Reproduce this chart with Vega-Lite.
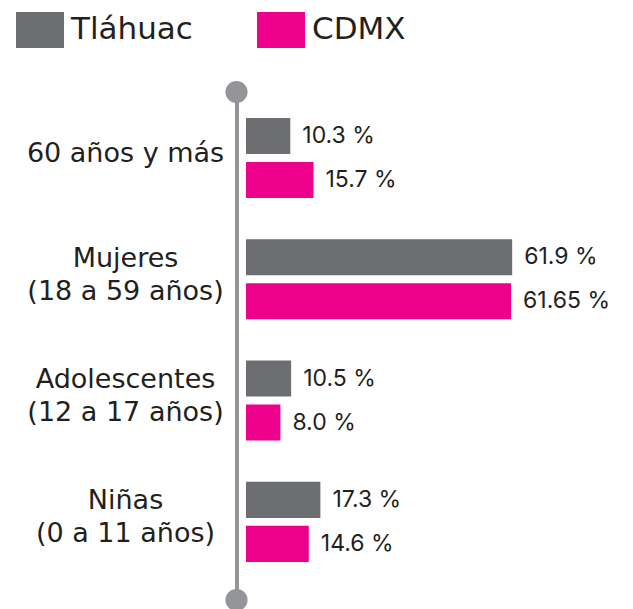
{
  "$schema": "https://vega.github.io/schema/vega-lite/v6.json",
  "width": 387,
  "height": 508,
  "autosize": {"type": "none"},
  "padding": {"left": 246, "top": 92, "right": 0, "bottom": 9},
  "background": "white",
  "config": {"view": {"stroke": null}, "font": "Inter"},
  "datasets": {
    "barras": [
      {"grupo": "60 años y más", "serie": "Tláhuac", "valor": 10.3, "texto": "10.3 %"},
      {"grupo": "60 años y más", "serie": "CDMX", "valor": 15.7, "texto": "15.7 %"},
      {"grupo": "Mujeres|(18 a 59 años)", "serie": "Tláhuac", "valor": 61.9, "texto": "61.9 %"},
      {"grupo": "Mujeres|(18 a 59 años)", "serie": "CDMX", "valor": 61.65, "texto": "61.65 %"},
      {"grupo": "Adolescentes|(12 a 17 años)", "serie": "Tláhuac", "valor": 10.5, "texto": "10.5 %"},
      {"grupo": "Adolescentes|(12 a 17 años)", "serie": "CDMX", "valor": 8.0, "texto": "8.0 %"},
      {"grupo": "Niñas|(0 a 11 años)", "serie": "Tláhuac", "valor": 17.3, "texto": "17.3 %"},
      {"grupo": "Niñas|(0 a 11 años)", "serie": "CDMX", "valor": 14.6, "texto": "14.6 %"}
    ],
    "extremos": [{"extremo": 0}, {"extremo": 1}]
  },
  "layer": [
    {
      "data": {"name": "barras"},
      "encoding": {
        "y": {
          "field": "grupo",
          "type": "nominal",
          "sort": ["60 años y más", "Mujeres|(18 a 59 años)", "Adolescentes|(12 a 17 años)", "Niñas|(0 a 11 años)"],
          "scale": {"paddingInner": 0.34, "paddingOuter": 0.264, "align": 0.405},
          "axis": {
            "title": null,
            "domain": true,
            "domainColor": "#939598",
            "domainWidth": 4,
            "offset": 9.5,
            "ticks": false,
            "tickSize": 0,
            "grid": false,
            "labelPadding": 111.5,
            "labelAlign": "center",
            "labelBaseline": "middle",
            "labelFont": "DejaVu Sans",
            "labelFontSize": 27,
            "labelColor": "#231F20",
            "labelLineHeight": 33,
            "labelLimit": 300,
            "labelOffset": {"condition": {"test": "indexof(datum.value, '|') >= 0", "value": -20.5}, "value": -4},
            "labelExpr": "split(datum.label, '|')"
          }
        },
        "yOffset": {
          "field": "serie",
          "sort": ["Tláhuac", "CDMX"],
          "scale": {"paddingInner": 0.18, "paddingOuter": 0}
        }
      },
      "layer": [
        {
          "mark": {"type": "bar"},
          "encoding": {
            "x": {"field": "valor", "type": "quantitative", "scale": {"domain": [0, 84]}, "axis": null},
            "color": {
              "field": "serie",
              "type": "nominal",
              "scale": {"domain": ["Tláhuac", "CDMX"], "range": ["#6D6E71", "#EC008C"]},
              "legend": {
                "orient": "none",
                "legendX": -230,
                "legendY": -86,
                "direction": "horizontal",
                "title": null,
                "symbolType": "M-1,-0.75H1V0.75H-1Z",
                "symbolSize": 2304,
                "symbolStrokeWidth": 0,
                "symbolOpacity": 1,
                "labelFont": "DejaVu Sans",
                "labelFontSize": 31,
                "labelColor": "#231F20",
                "labelOffset": 7,
                "columnPadding": 64,
                "labelLimit": 300
              }
            }
          }
        },
        {
          "mark": {"type": "text", "align": "left", "baseline": "middle", "dx": 12, "fontSize": 23, "color": "#231F20"},
          "encoding": {
            "x": {"field": "valor", "type": "quantitative"},
            "text": {"field": "texto"}
          }
        }
      ]
    },
    {
      "data": {"name": "extremos"},
      "mark": {"type": "point", "filled": true, "size": 490, "color": "#939598", "opacity": 1, "xOffset": -9.5},
      "encoding": {
        "x": {"datum": 0, "type": "quantitative"},
        "y": {"field": "extremo", "type": "quantitative", "scale": {"domain": [0, 1]}, "axis": null}
      }
    }
  ],
  "resolve": {"scale": {"y": "independent"}}
}
